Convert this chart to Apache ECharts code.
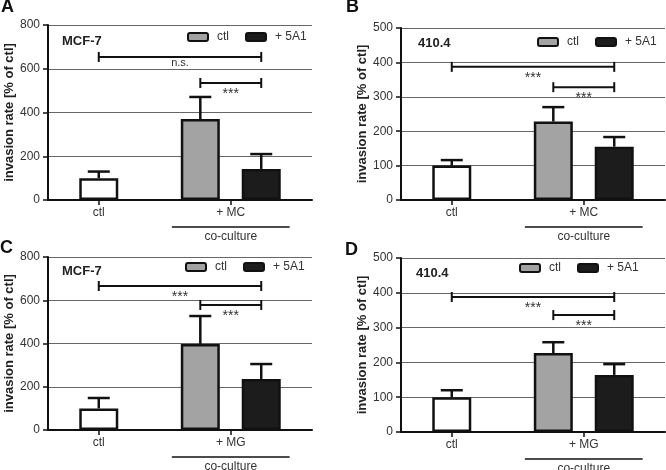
<!DOCTYPE html>
<html><head><meta charset="utf-8">
<script src="https://cdn.jsdelivr.net/npm/echarts@6/dist/echarts.min.js"></script>
<style>html,body{margin:0;padding:0;background:#fff}#main{width:666px;height:470px}</style>
</head><body><div id="main"></div>
<script>
// ---- data ----
const panelLetters = ['A', 'B', 'C', 'D'];
const cellLines = ['MCF-7', '410.4', 'MCF-7', '410.4'];
const categoryLabels = ['ctl', '+ MC', '+ MC', '+ MG', '+ MG'];
const groupLabels = ['+ MC', '+ MC', '+ MG', '+ MG'];
const groupCaption = 'co-culture';
const seriesNames = ['ctl', '+ 5A1'];
const yMax = [800, 500, 800, 500];
const yInterval = [200, 100, 200, 100];
const ctlValues = [100, 100, 100, 100];
const ctlErrTop = [130, 116, 148, 120];
const coCtlValues = [370, 228, 398, 227];
const coCtlErrTop = [471, 270, 527, 258];
const co5A1Values = [142, 155, 236, 164];
const co5A1ErrTop = [210, 183, 305, 195];
const bracketTopY = [654, 387, 666, 388];
const bracketTopLabel = ['n.s.', '***', '***', '***'];
const bracketLowY = [535, 328, 578, 336];
const bracketLowLabel = ['***', '***', '***', '***'];
const yAxisName = 'invasion rate [% of ctl]';

// ---- layout ----
const FONT = 'Liberation Sans, Arial, Helvetica, sans-serif';
const grids = [
  { left: 48, top: 25, width: 264, height: 175 },
  { left: 401, top: 28, width: 264, height: 172 },
  { left: 48, top: 257, width: 264, height: 173 },
  { left: 401, top: 258, width: 264, height: 174 }
];
const X = { min: 0, max: 26, ctl: 5, coCtl: 15, co5A1: 21, group: 18, lineFrom: 12.2, lineTo: 23.8 };
const nameGaps = [31, 29, 32, 29];
const legendPos = [[187, 31], [537, 36], [185, 261], [519, 262]];
const cellLinePos = [[62, 35], [418, 37], [62, 265], [416, 267]];
const letterPos = [[1, -2], [346, -2], [0, 239], [345, 241]];

const option = {
  animation: false,
  backgroundColor: '#fff',
  textStyle: { fontFamily: FONT },
  grid: grids.map(g => Object.assign({ containLabel: false }, g)),
  title: [],
  legend: [],
  xAxis: [],
  yAxis: [],
  series: []
};

for (let i = 0; i < 4; i++) {
  option.title.push({ text: panelLetters[i], left: letterPos[i][0], top: letterPos[i][1], padding: 0,
    textStyle: { fontSize: 18, fontWeight: 'bold', color: '#111', fontFamily: FONT } });
  option.title.push({ text: cellLines[i], left: cellLinePos[i][0], top: cellLinePos[i][1], padding: 0,
    textStyle: { fontSize: 13, fontWeight: 'bold', color: '#222', fontFamily: FONT } });
  option.legend.push({
    left: legendPos[i][0], top: legendPos[i][1], padding: 0, itemWidth: 20, itemHeight: 8, itemGap: 16,
    icon: 'roundRect', selectedMode: false, data: seriesNames,
    itemStyle: { borderWidth: 2, borderColor: '#111' },
    textStyle: { fontSize: 12, color: '#333', fontFamily: FONT, padding: [0, 0, 0, 4] }
  });
  const gl = groupLabels[i];
  option.xAxis.push({
    type: 'value', gridIndex: i, min: X.min, max: X.max,
    splitLine: { show: false },
    axisLine: { show: true, onZero: false, lineStyle: { color: '#111', width: 2 } },
    axisTick: { show: true, customValues: [X.ctl, X.group], length: 5, lineStyle: { color: '#111', width: 1.5 } },
    axisLabel: { customValues: [X.ctl, X.group], margin: 7, fontSize: 12, color: '#333', fontFamily: FONT,
      formatter: v => v === X.ctl ? categoryLabels[0] : (v === X.group ? gl : '') }
  });
  option.yAxis.push({
    type: 'value', gridIndex: i, min: 0, max: yMax[i], interval: yInterval[i],
    name: yAxisName, nameLocation: 'middle', nameGap: nameGaps[i],
    nameTextStyle: { fontWeight: 'bold', fontSize: 13, color: '#222', fontFamily: FONT },
    axisLine: { show: true, lineStyle: { color: '#111', width: 2 } },
    axisTick: { show: true, length: 5, lineStyle: { color: '#111', width: 1.5 } },
    axisLabel: { margin: 8, fontSize: 12, color: '#333', fontFamily: FONT },
    splitLine: { show: true, lineStyle: { color: '#666', width: 1 } }
  });
  const barBase = { type: 'bar', xAxisIndex: i, yAxisIndex: i, barWidth: 39, barGap: '-100%', z: 2 };
  option.series.push(Object.assign({}, barBase, { name: 'control', data: [[X.ctl, ctlValues[i]]],
    itemStyle: { color: '#fff', borderColor: '#111', borderWidth: 2.5 } }));
  option.series.push(Object.assign({}, barBase, { name: seriesNames[0], data: [[X.coCtl, coCtlValues[i]]],
    itemStyle: { color: '#a3a3a3', borderColor: '#111', borderWidth: 2.5 } }));
  option.series.push(Object.assign({}, barBase, { name: seriesNames[1], data: [[X.co5A1, co5A1Values[i]]],
    itemStyle: { color: '#1c1c1c', borderColor: '#111', borderWidth: 2.5 } }));
  // error bars
  option.series.push({
    type: 'custom', xAxisIndex: i, yAxisIndex: i, z: 3,
    data: [[X.ctl, ctlValues[i], ctlErrTop[i]], [X.coCtl, coCtlValues[i], coCtlErrTop[i]], [X.co5A1, co5A1Values[i], co5A1ErrTop[i]]],
    renderItem: (params, api) => {
      const p0 = api.coord([api.value(0), api.value(1)]);
      const p1 = api.coord([api.value(0), api.value(2)]);
      const st = { stroke: '#111', lineWidth: 2.5 };
      return { type: 'group', children: [
        { type: 'line', shape: { x1: p0[0], y1: p0[1], x2: p1[0], y2: p1[1] }, style: st },
        { type: 'line', shape: { x1: p1[0] - 11, y1: p1[1], x2: p1[0] + 11, y2: p1[1] }, style: st }
      ] };
    }
  });
  // significance brackets
  const labels = [bracketTopLabel[i], bracketLowLabel[i]];
  option.series.push({
    type: 'custom', xAxisIndex: i, yAxisIndex: i, z: 4,
    data: [[X.ctl, bracketTopY[i], X.co5A1], [X.coCtl, bracketLowY[i], X.co5A1]],
    renderItem: (params, api) => {
      const a = api.coord([api.value(0), api.value(1)]);
      const b = api.coord([api.value(2), api.value(1)]);
      const st = { stroke: '#111', lineWidth: 2 };
      const lab = labels[params.dataIndex];
      const isStar = lab.indexOf('*') >= 0;
      return { type: 'group', children: [
        { type: 'line', shape: { x1: a[0], y1: a[1], x2: b[0], y2: b[1] }, style: st },
        { type: 'line', shape: { x1: a[0], y1: a[1] - 5, x2: a[0], y2: a[1] + 5 }, style: st },
        { type: 'line', shape: { x1: b[0], y1: b[1] - 5, x2: b[0], y2: b[1] + 5 }, style: st },
        { type: 'text', style: { text: lab, x: (a[0] + b[0]) / 2, y: a[1] + (isStar ? 4 : 1), align: 'center', verticalAlign: 'top',
          fontSize: isStar ? 14 : 11, fill: '#333', fontFamily: FONT } }
      ] };
    }
  });
  // co-culture caption
  option.series.push({
    type: 'custom', xAxisIndex: i, yAxisIndex: i, z: 4,
    data: [[X.lineFrom, 0, X.lineTo]],
    renderItem: (params, api) => {
      const a = api.coord([api.value(0), api.value(1)]);
      const b = api.coord([api.value(2), api.value(1)]);
      return { type: 'group', children: [
        { type: 'line', shape: { x1: a[0], y1: a[1] + 27, x2: b[0], y2: a[1] + 27 }, style: { stroke: '#111', lineWidth: 1.5 } },
        { type: 'text', style: { text: groupCaption, x: (a[0] + b[0]) / 2, y: a[1] + 37, align: 'center', verticalAlign: 'middle',
          fontSize: 12, fill: '#333', fontFamily: FONT } }
      ] };
    }
  });
}

const chart = echarts.init(document.getElementById('main'), null, { renderer: 'canvas' });
chart.setOption(option);
</script>
</body></html>
